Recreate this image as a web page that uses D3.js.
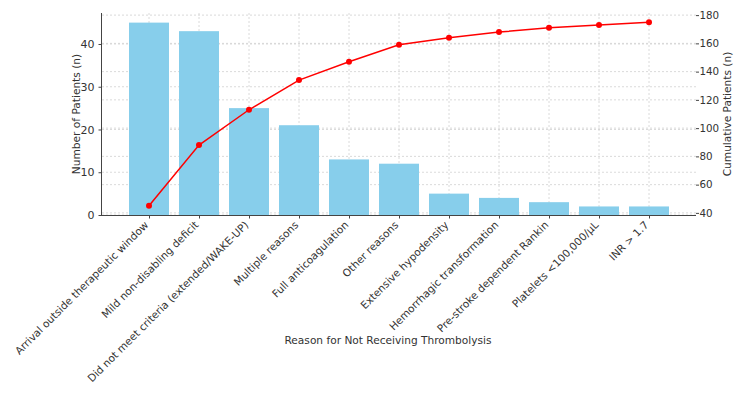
<!DOCTYPE html>
<meta charset="utf-8">
<html>
<style>
  body { margin: 0; background: #fff; }
  text { font-family: "DejaVu Sans", sans-serif; fill: #333; }
  .grid line { stroke: #d0d0d0; stroke-dasharray: 2,2; stroke-width: 0.8px; }
  .line { fill: none; stroke: red; stroke-width: 1.5px; }
</style>
<body>
<svg width="750" height="401"></svg>
<script src="https://d3js.org/d3.v7.min.js"></script>
<script>
// reasons and counts
var reasons = [
  "Arrival outside therapeutic window",
  "Mild non-disabling deficit",
  "Did not meet criteria (extended/WAKE-UP)",
  "Multiple reasons",
  "Full anticoagulation",
  "Other reasons",
  "Extensive hypodensity",
  "Hemorrhagic transformation",
  "Pre-stroke dependent Rankin",
  "Platelets <100,000/\u00b5L",
  "INR > 1.7"
];
var counts = [45, 43, 25, 21, 13, 12, 5, 4, 3, 2, 2];
var cumulative = [45, 88, 113, 134, 147, 159, 164, 168, 171, 173, 175];
var leftTicks = [0, 10, 20, 30, 40];
var rightTicks = [40, 60, 80, 100, 120, 140, 160, 180];

var svg = d3.select("svg"),
    margin = {top: 13, right: 54, bottom: 186, left: 102},
    width = 750 - margin.left - margin.right,
    height = 401 - margin.top - margin.bottom,
    g = svg.append("g").attr("transform", "translate(" + margin.left + "," + margin.top + ")");

// x: index based, like matplotlib with margins
var x = d3.scaleLinear().domain([-0.94, 10.94]).range([0, width]);
var bw = x(0.4) - x(-0.4);
var y = d3.scaleLinear().domain([0, 47.25]).range([height, 0]);
var y2 = d3.scaleLinear().domain([38.5, 181.5]).range([height, 0]);

// grid
g.append("g").attr("class", "grid")
  .selectAll("line").data(reasons).enter().append("line")
  .attr("x1", function(d, i) { return x(i); })
  .attr("x2", function(d, i) { return x(i); })
  .attr("y1", 0).attr("y2", height);
g.append("g").attr("class", "grid")
  .selectAll("line").data(leftTicks).enter().append("line")
  .attr("x1", 0).attr("x2", width)
  .attr("y1", function(d) { return y(d); })
  .attr("y2", function(d) { return y(d); });
g.append("g").attr("class", "grid")
  .selectAll("line").data(rightTicks).enter().append("line")
  .attr("x1", 0).attr("x2", width)
  .attr("y1", function(d) { return y2(d); })
  .attr("y2", function(d) { return y2(d); });

// bars
g.selectAll(".bar").data(counts).enter().append("rect")
  .attr("class", "bar")
  .attr("fill", "#87ceeb")
  .attr("x", function(d, i) { return x(i) - bw / 2; })
  .attr("width", bw)
  .attr("y", function(d) { return y(d); })
  .attr("height", function(d) { return height - y(d); });

// x axis
var xAxis = g.append("g")
  .attr("transform", "translate(0," + height + ")")
  .call(d3.axisBottom(x).tickValues(d3.range(reasons.length)).tickSize(3.5)
    .tickFormat(function(i) { return reasons[i]; }));
xAxis.select(".domain").attr("stroke", "#444").attr("d", "M0,0.5H" + width);
xAxis.selectAll(".tick line").attr("stroke", "#444");
xAxis.selectAll("text")
  .style("font-size", "10.5px")
  .attr("text-anchor", "end")
  .attr("dy", "0.35em")
  .attr("transform", "translate(-3,8) rotate(-45)")
  .attr("x", 0).attr("y", 0);

// left axis
var yAxis = g.append("g")
  .call(d3.axisLeft(y).tickValues(leftTicks).tickSize(3.5).tickPadding(4));
yAxis.select(".domain").attr("stroke", "#444").attr("d", "M-0.5," + height + "V0");
yAxis.selectAll(".tick line").attr("stroke", "#444");
yAxis.selectAll("text").style("font-size", "11px");

// right axis
var y2Axis = g.append("g")
  .attr("transform", "translate(" + width + ",0)")
  .call(d3.axisRight(y2).tickValues(rightTicks).tickSize(3).tickPadding(0.5));
y2Axis.select(".domain").remove();
y2Axis.selectAll(".tick line").attr("stroke", "#444");
y2Axis.selectAll("text").style("font-size", "10.3px");

// cumulative line
var line = d3.line()
  .x(function(d, i) { return x(i); })
  .y(function(d) { return y2(d); });
g.append("path").datum(cumulative).attr("class", "line").attr("d", line);
g.selectAll(".dot").data(cumulative).enter().append("circle")
  .attr("fill", "red")
  .attr("r", 3)
  .attr("cx", function(d, i) { return x(i); })
  .attr("cy", function(d) { return y2(d); });

// axis labels
svg.append("text")
  .attr("x", 388).attr("y", 344)
  .attr("text-anchor", "middle").style("font-size", "10.6px")
  .text("Reason for Not Receiving Thrombolysis");
svg.append("text")
  .attr("transform", "translate(79.5," + (margin.top + height / 2) + ") rotate(-90)")
  .attr("text-anchor", "middle").style("font-size", "10.6px")
  .text("Number of Patients (n)");
svg.append("text")
  .attr("transform", "translate(731," + (margin.top + height / 2) + ") rotate(-90)")
  .attr("text-anchor", "middle").style("font-size", "10.6px")
  .text("Cumulative Patients (n)");
</script>
</body>
</html>
